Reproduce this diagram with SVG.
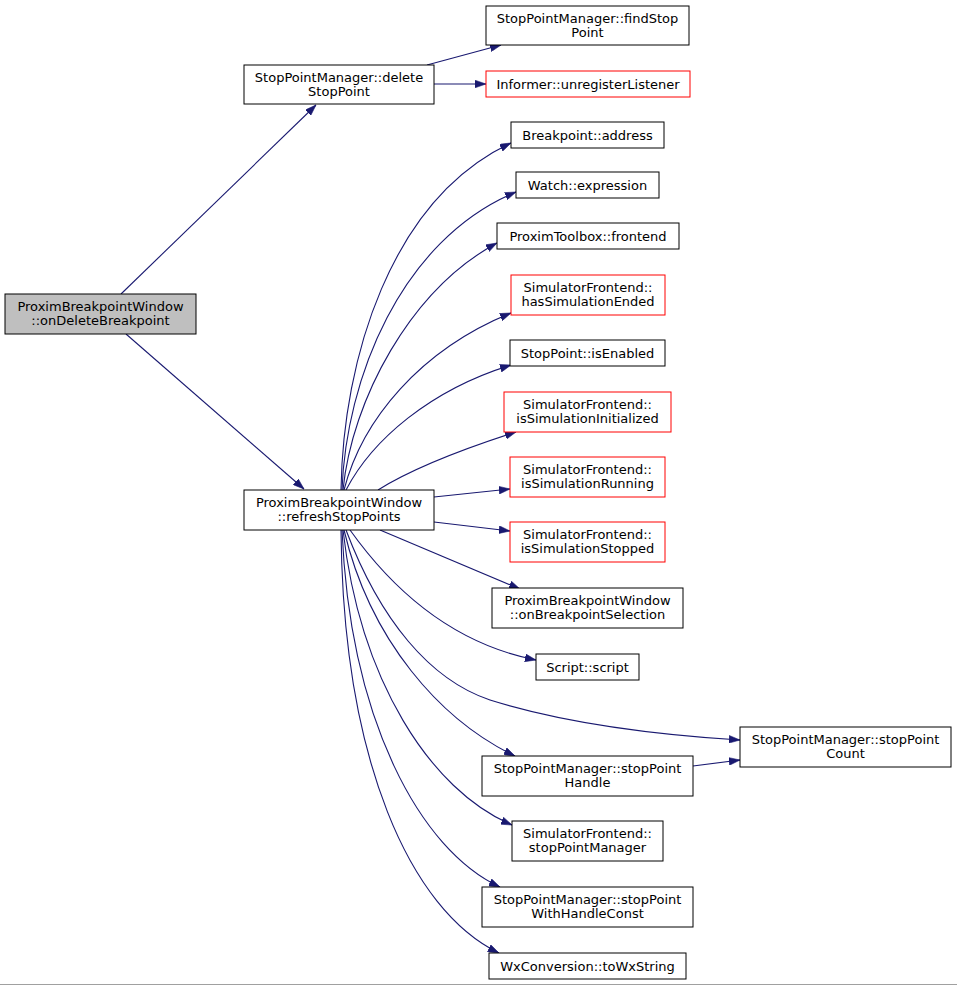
<svg xmlns="http://www.w3.org/2000/svg" width="957" height="985" viewBox="0 0 957 985">
<style>
.n rect{fill:#ffffff;stroke:#000000;stroke-width:1}
.n.red rect{stroke:#ff0000}
.n.root rect{fill:#bfbfbf}
.n text{font-family:"DejaVu Sans","Liberation Sans",sans-serif;font-size:13px;fill:#000000;text-anchor:middle}
.e path{fill:none;stroke:#191970;stroke-width:1.1}
</style>
<defs>
<marker id="ah" viewBox="0 0 10 7" refX="10" refY="3.5" markerWidth="11" markerHeight="8" markerUnits="userSpaceOnUse" orient="auto">
<path d="M0,0 L10,3.5 L0,7 z" fill="#191970" stroke="#191970" stroke-width="0.5"/>
</marker>
</defs>
<rect x="0" y="0" width="957" height="985" fill="#ffffff"/>
<g id="edges" class="e">
<path marker-end="url(#ah)" d="M121,294 L316,105"/>
<path marker-end="url(#ah)" d="M126,334 L304,489"/>
<path marker-end="url(#ah)" d="M427,65 L501,45"/>
<path marker-end="url(#ah)" d="M434,84 L486,84"/>
<path marker-end="url(#ah)" d="M341,490 C343,360 390,200 511,143"/>
<path marker-end="url(#ah)" d="M342,490 C346,380 400,240 516,192"/>
<path marker-end="url(#ah)" d="M343,490 C352,400 410,290 497,243"/>
<path marker-end="url(#ah)" d="M344,490 C362,420 420,350 511,313"/>
<path marker-end="url(#ah)" d="M346,490 C372,440 430,390 511,365"/>
<path marker-end="url(#ah)" d="M378,490 C410,470 460,450 516,432"/>
<path marker-end="url(#ah)" d="M434,497 L510,489"/>
<path marker-end="url(#ah)" d="M434,522 L510,531"/>
<path marker-end="url(#ah)" d="M380,530 L520,589"/>
<path marker-end="url(#ah)" d="M350,530 C400,600 460,645 536,660"/>
<path marker-end="url(#ah)" d="M346,530 C380,620 430,680 490,700 C570,725 660,735 740,740"/>
<path marker-end="url(#ah)" d="M344,530 C370,640 440,720 515,756"/>
<path marker-end="url(#ah)" d="M693,766 L740,760"/>
<path marker-end="url(#ah)" d="M343,530 C360,680 430,790 512,825"/>
<path marker-end="url(#ah)" d="M342,530 C350,720 420,850 500,887"/>
<path marker-end="url(#ah)" d="M341,530 C343,760 410,910 499,953"/>
</g>
<g id="onDeleteBreakpoint" class="n root"><rect x="5" y="294" width="191" height="40"/><text x="100.5" y="311">ProximBreakpointWindow</text><text x="100.5" y="325">::onDeleteBreakpoint</text></g>
<g id="deleteStopPoint" class="n"><rect x="244" y="65" width="190" height="39"/><text x="339" y="81.5">StopPointManager::delete</text><text x="339" y="95.5">StopPoint</text></g>
<g id="findStopPoint" class="n"><rect x="486" y="6" width="203" height="39"/><text x="587.5" y="22.5">StopPointManager::findStop</text><text x="587.5" y="36.5">Point</text></g>
<g id="unregisterListener" class="n red"><rect x="486" y="71" width="204" height="26"/><text x="588" y="88.5">Informer::unregisterListener</text></g>
<g id="refreshStopPoints" class="n"><rect x="244" y="490" width="190" height="40"/><text x="339" y="507">ProximBreakpointWindow</text><text x="339" y="521">::refreshStopPoints</text></g>
<g id="address" class="n"><rect x="511" y="122" width="153" height="26"/><text x="587.5" y="139.5">Breakpoint::address</text></g>
<g id="expression" class="n"><rect x="516" y="172" width="143" height="26"/><text x="587.5" y="189.5">Watch::expression</text></g>
<g id="frontend" class="n"><rect x="497" y="223" width="182" height="26"/><text x="588" y="240.5">ProximToolbox::frontend</text></g>
<g id="hasSimulationEnded" class="n red"><rect x="511" y="275" width="154" height="40"/><text x="588" y="292">SimulatorFrontend::</text><text x="588" y="306">hasSimulationEnded</text></g>
<g id="isEnabled" class="n"><rect x="510" y="340" width="155" height="26"/><text x="587.5" y="357.5">StopPoint::isEnabled</text></g>
<g id="isSimulationInitialized" class="n red"><rect x="504" y="392" width="167" height="40"/><text x="587.5" y="409">SimulatorFrontend::</text><text x="587.5" y="423">isSimulationInitialized</text></g>
<g id="isSimulationRunning" class="n red"><rect x="510" y="457" width="155" height="40"/><text x="587.5" y="474">SimulatorFrontend::</text><text x="587.5" y="488">isSimulationRunning</text></g>
<g id="isSimulationStopped" class="n red"><rect x="510" y="522" width="155" height="40"/><text x="587.5" y="539">SimulatorFrontend::</text><text x="587.5" y="553">isSimulationStopped</text></g>
<g id="onBreakpointSelection" class="n"><rect x="492" y="588" width="191" height="40"/><text x="587.5" y="605">ProximBreakpointWindow</text><text x="587.5" y="619">::onBreakpointSelection</text></g>
<g id="script" class="n"><rect x="536" y="654" width="103" height="26"/><text x="587.5" y="671.5">Script::script</text></g>
<g id="stopPointCount" class="n"><rect x="740" y="727" width="211" height="40"/><text x="845.5" y="744">StopPointManager::stopPoint</text><text x="845.5" y="758">Count</text></g>
<g id="stopPointHandle" class="n"><rect x="482" y="756" width="211" height="40"/><text x="587.5" y="773">StopPointManager::stopPoint</text><text x="587.5" y="787">Handle</text></g>
<g id="stopPointManager" class="n"><rect x="512" y="821" width="151" height="40"/><text x="587.5" y="838">SimulatorFrontend::</text><text x="587.5" y="852">stopPointManager</text></g>
<g id="stopPointWithHandleConst" class="n"><rect x="482" y="887" width="211" height="40"/><text x="587.5" y="904">StopPointManager::stopPoint</text><text x="587.5" y="918">WithHandleConst</text></g>
<g id="toWxString" class="n"><rect x="489" y="953" width="197" height="26"/><text x="587.5" y="970.5">WxConversion::toWxString</text></g>
<line x1="0" y1="984.5" x2="957" y2="984.5" stroke="#a0a0a0" stroke-width="1"/>
</svg>
